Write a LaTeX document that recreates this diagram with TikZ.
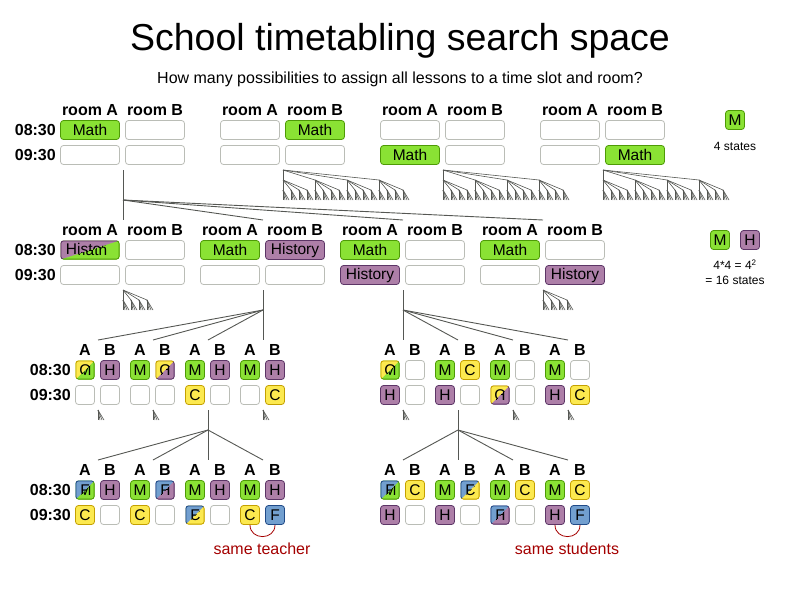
\documentclass[tikz,border=0pt]{standalone}
\usepackage{fontspec}
\setmainfont{Liberation Sans}
\definecolor{mfill}{HTML}{8AE234}
\definecolor{mline}{HTML}{4E9A06}
\definecolor{hfill}{HTML}{AD7FA8}
\definecolor{hline}{HTML}{5C3566}
\definecolor{cfill}{HTML}{FCE94F}
\definecolor{cline}{HTML}{C4A000}
\definecolor{ffill}{HTML}{729FCF}
\definecolor{fline}{HTML}{204A87}
\definecolor{slotgray}{HTML}{BABDB6}
\definecolor{linegray}{HTML}{555753}
\definecolor{remred}{HTML}{A40000}
\newcommand\cellfont{\fontsize{15.5}{16}\selectfont}
\newcommand\subtree[4]{%
  \ifnum#4>0\relax
    \foreach \i in {0,...,3}{%
      \pgfmathsetmacro\cx{#1+\i*#3}%
      \pgfmathsetmacro\cy{#2+10}%
      \pgfmathsetmacro\ns{#3/4}%
      \pgfmathtruncatemacro\nd{#4-1}%
      \draw[twig] (#1,#2) -- (\cx,\cy);%
      \edef\next{\noexpand\subtree{\cx}{\cy}{\ns}{\nd}}\next
    }%
  \fi}
\tikzset{
  slot/.style={draw=slotgray, fill=white, rounded corners=3pt, line width=0.8pt,
    minimum width=59pt, minimum height=19pt, inner sep=0pt, font=\cellfont},
  sq/.style={slot, minimum width=19pt},
  lm/.style={fill=mfill, draw=mline},
  lh/.style={fill=hfill, draw=hline},
  lc/.style={fill=cfill, draw=cline},
  lf/.style={fill=ffill, draw=fline},
  mixed/.style n args={4}{fill=#3fill, draw=none, path picture={
    \begin{scope}
      \clip[sharp corners] (path picture bounding box.north west) -- (path picture bounding box.north east)
        -- (path picture bounding box.south west) -- cycle;
      \fill[#1fill] (path picture bounding box.south west) rectangle (path picture bounding box.north east);
      \draw[#1line, line width=1.6pt, rounded corners=3pt] (path picture bounding box.south west) rectangle (path picture bounding box.north east);
      \pgftext[at=\pgfpointanchor{path picture bounding box}{center}]{\cellfont #2}
    \end{scope}
    \begin{scope}
      \clip[sharp corners] (path picture bounding box.north east) -- (path picture bounding box.south east)
        -- (path picture bounding box.south west) -- cycle;
      \draw[#3line, line width=1.6pt, rounded corners=3pt] (path picture bounding box.south west) rectangle (path picture bounding box.north east);
      \pgftext[at=\pgfpointanchor{path picture bounding box}{center}]{\cellfont #4}
    \end{scope}}},
  hdr/.style={font=\bfseries\fontsize{16}{16}\selectfont, inner sep=0pt},
  tm/.style={hdr, anchor=east},
  branch/.style={draw=linegray, line width=0.9pt},
  twig/.style={draw=linegray, line width=0.6pt},
  note/.style={font=\fontsize{12}{15}\selectfont, align=center, inner sep=0pt},
  remark/.style={font=\fontsize{16}{16}\selectfont, text=remred, inner sep=0pt}
}
\begin{document}
\begin{tikzpicture}[x=1pt,y=-1pt]
    \useasboundingbox (0,0) rectangle (800,600);
    \node[inner sep=0pt, font=\fontsize{37.5}{40}\selectfont] (title) at (400,41) {School timetabling search space};
    \node[inner sep=0pt, font=\fontsize{16}{16}\selectfont] (sub) at (400,79) {How many possibilities to assign all lessons to a time slot and room?};

    % column and row labels
    \foreach \g/\x in {a/90, b/250, c/410, d/570} {
        \node[hdr] (h1\g A) at (\x,110) {room A};
        \node[hdr] (h1\g B) at (\x+65,110) {room B};
    }
    \foreach \g/\x in {a/90, b/230, c/370, d/510} {
        \node[hdr] (h2\g A) at (\x,230) {room A};
        \node[hdr] (h2\g B) at (\x+65,230) {room B};
    }
    \foreach \x [count=\i] in {85,140,195,250,390,445,500,555} {
        \node[hdr] (h3A\i) at (\x,350) {A};
        \node[hdr] (h3B\i) at (\x+25,350) {B};
        \node[hdr] (h4A\i) at (\x,470) {A};
        \node[hdr] (h4B\i) at (\x+25,470) {B};
    }
    \node[tm] (t1a) at (56,130) {08:30};
    \node[tm] (t1b) at (56,155) {09:30};
    \node[tm] (t2a) at (56,250) {08:30};
    \node[tm] (t2b) at (56,275) {09:30};
    \node[tm] (t3a) at (71,370) {08:30};
    \node[tm] (t3b) at (71,395) {09:30};
    \node[tm] (t4a) at (71,490) {08:30};
    \node[tm] (t4b) at (71,515) {09:30};

    % level 1
    \node[slot, lm] (c1aA8) at (90,130) {Math};
    \node[slot] (c1aB8) at (155,130) {};
    \node[slot] (c1aA9) at (90,155) {};
    \node[slot] (c1aB9) at (155,155) {};
    \node[slot] (c1bA8) at (250,130) {};
    \node[slot, lm] (c1bB8) at (315,130) {Math};
    \node[slot] (c1bA9) at (250,155) {};
    \node[slot] (c1bB9) at (315,155) {};
    \node[slot] (c1cA8) at (410,130) {};
    \node[slot] (c1cB8) at (475,130) {};
    \node[slot, lm] (c1cA9) at (410,155) {Math};
    \node[slot] (c1cB9) at (475,155) {};
    \node[slot] (c1dA8) at (570,130) {};
    \node[slot] (c1dB8) at (635,130) {};
    \node[slot] (c1dA9) at (570,155) {};
    \node[slot, lm] (c1dB9) at (635,155) {Math};

    % level 2
    \node[slot, mixed={h}{History}{m}{Math}] (c2aA8) at (90,250) {};
    \node[slot] (c2aB8) at (155,250) {};
    \node[slot] (c2aA9) at (90,275) {};
    \node[slot] (c2aB9) at (155,275) {};
    \node[slot, lm] (c2bA8) at (230,250) {Math};
    \node[slot, lh] (c2bB8) at (295,250) {History};
    \node[slot] (c2bA9) at (230,275) {};
    \node[slot] (c2bB9) at (295,275) {};
    \node[slot, lm] (c2cA8) at (370,250) {Math};
    \node[slot] (c2cB8) at (435,250) {};
    \node[slot, lh] (c2cA9) at (370,275) {History};
    \node[slot] (c2cB9) at (435,275) {};
    \node[slot, lm] (c2dA8) at (510,250) {Math};
    \node[slot] (c2dB8) at (575,250) {};
    \node[slot] (c2dA9) at (510,275) {};
    \node[slot, lh] (c2dB9) at (575,275) {History};

    % level 3
    \node[sq, mixed={c}{C}{m}{M}] (c3aA8) at (85,370) {};
    \node[sq, lh] (c3aB8) at (110,370) {H};
    \node[sq] (c3aA9) at (85,395) {};
    \node[sq] (c3aB9) at (110,395) {};
    \node[sq, lm] (c3bA8) at (140,370) {M};
    \node[sq, mixed={c}{C}{h}{H}] (c3bB8) at (165,370) {};
    \node[sq] (c3bA9) at (140,395) {};
    \node[sq] (c3bB9) at (165,395) {};
    \node[sq, lm] (c3cA8) at (195,370) {M};
    \node[sq, lh] (c3cB8) at (220,370) {H};
    \node[sq, lc] (c3cA9) at (195,395) {C};
    \node[sq] (c3cB9) at (220,395) {};
    \node[sq, lm] (c3dA8) at (250,370) {M};
    \node[sq, lh] (c3dB8) at (275,370) {H};
    \node[sq] (c3dA9) at (250,395) {};
    \node[sq, lc] (c3dB9) at (275,395) {C};
    \node[sq, mixed={c}{C}{m}{M}] (c3eA8) at (390,370) {};
    \node[sq] (c3eB8) at (415,370) {};
    \node[sq, lh] (c3eA9) at (390,395) {H};
    \node[sq] (c3eB9) at (415,395) {};
    \node[sq, lm] (c3fA8) at (445,370) {M};
    \node[sq, lc] (c3fB8) at (470,370) {C};
    \node[sq, lh] (c3fA9) at (445,395) {H};
    \node[sq] (c3fB9) at (470,395) {};
    \node[sq, lm] (c3gA8) at (500,370) {M};
    \node[sq] (c3gB8) at (525,370) {};
    \node[sq, mixed={c}{C}{h}{H}] (c3gA9) at (500,395) {};
    \node[sq] (c3gB9) at (525,395) {};
    \node[sq, lm] (c3hA8) at (555,370) {M};
    \node[sq] (c3hB8) at (580,370) {};
    \node[sq, lh] (c3hA9) at (555,395) {H};
    \node[sq, lc] (c3hB9) at (580,395) {C};

    % level 4
    \node[sq, mixed={f}{F}{m}{M}] (c4aA8) at (85,490) {};
    \node[sq, lh] (c4aB8) at (110,490) {H};
    \node[sq, lc] (c4aA9) at (85,515) {C};
    \node[sq] (c4aB9) at (110,515) {};
    \node[sq, lm] (c4bA8) at (140,490) {M};
    \node[sq, mixed={f}{F}{h}{H}] (c4bB8) at (165,490) {};
    \node[sq, lc] (c4bA9) at (140,515) {C};
    \node[sq] (c4bB9) at (165,515) {};
    \node[sq, lm] (c4cA8) at (195,490) {M};
    \node[sq, lh] (c4cB8) at (220,490) {H};
    \node[sq, mixed={f}{F}{c}{C}] (c4cA9) at (195,515) {};
    \node[sq] (c4cB9) at (220,515) {};
    \node[sq, lm] (c4dA8) at (250,490) {M};
    \node[sq, lh] (c4dB8) at (275,490) {H};
    \node[sq, lc] (c4dA9) at (250,515) {C};
    \node[sq, lf] (c4dB9) at (275,515) {F};
    \node[sq, mixed={f}{F}{m}{M}] (c4eA8) at (390,490) {};
    \node[sq, lc] (c4eB8) at (415,490) {C};
    \node[sq, lh] (c4eA9) at (390,515) {H};
    \node[sq] (c4eB9) at (415,515) {};
    \node[sq, lm] (c4fA8) at (445,490) {M};
    \node[sq, mixed={f}{F}{c}{C}] (c4fB8) at (470,490) {};
    \node[sq, lh] (c4fA9) at (445,515) {H};
    \node[sq] (c4fB9) at (470,515) {};
    \node[sq, lm] (c4gA8) at (500,490) {M};
    \node[sq, lc] (c4gB8) at (525,490) {C};
    \node[sq, mixed={f}{F}{h}{H}] (c4gA9) at (500,515) {};
    \node[sq] (c4gB9) at (525,515) {};
    \node[sq, lm] (c4hA8) at (555,490) {M};
    \node[sq, lc] (c4hB8) at (580,490) {C};
    \node[sq, lh] (c4hA9) at (555,515) {H};
    \node[sq, lf] (c4hB9) at (580,515) {F};

    % state counts
    \node[sq, lm] (kM1) at (735,120) {M};
    \node[note] (k1) at (735,146) {4 states};
    \node[sq, lm] (kM2) at (720,240) {M};
    \node[sq, lh] (kH2) at (750,240) {H};
    \node[note] (k2) at (735,272) {4*4 = 4\textsuperscript{2}\\= 16 states};

    % conflicts
    \node[remark] (rt) at (262,549) {same teacher};
    \node[remark] (rs) at (567,549) {same students};
    \draw[remred, line width=0.8pt] (c4dA9.south) to[out=-90, in=-90, looseness=1.6] (c4dB9.south);
    \draw[remred, line width=0.8pt] (c4hA9.south) to[out=-90, in=-90, looseness=1.6] (c4hB9.south);

    % search tree
    \coordinate (p1) at (123,170);
    \coordinate (p1m) at (123,200);
    \coordinate (p1e) at (123,220);
    \coordinate (q1b) at (263,220);
    \coordinate (q1c) at (403,220);
    \coordinate (q1d) at (543,220);
    \draw[branch] (p1) -- (p1e);
    \draw[branch] (p1m) -- (q1b);
    \draw[branch] (p1m) -- (q1c);
    \draw[branch] (p1m) -- (q1d);
    \coordinate (p2) at (263,290);
    \coordinate (p2m) at (263,310);
    \coordinate (p2e) at (263,340);
    \coordinate (q2a) at (98,340);
    \coordinate (q2b) at (153,340);
    \coordinate (q2c) at (208,340);
    \draw[branch] (p2) -- (p2e);
    \draw[branch] (p2m) -- (q2a);
    \draw[branch] (p2m) -- (q2b);
    \draw[branch] (p2m) -- (q2c);
    \coordinate (p3) at (403,290);
    \coordinate (p3m) at (403,310);
    \coordinate (p3e) at (403,340);
    \coordinate (q3f) at (458,340);
    \coordinate (q3g) at (513,340);
    \coordinate (q3h) at (568,340);
    \draw[branch] (p3) -- (p3e);
    \draw[branch] (p3m) -- (q3f);
    \draw[branch] (p3m) -- (q3g);
    \draw[branch] (p3m) -- (q3h);
    \coordinate (p4) at (208,410);
    \coordinate (p4m) at (208,430);
    \coordinate (p4e) at (208,460);
    \coordinate (q4a) at (98,460);
    \coordinate (q4b) at (153,460);
    \coordinate (q4d) at (263,460);
    \draw[branch] (p4) -- (p4e);
    \draw[branch] (p4m) -- (q4a);
    \draw[branch] (p4m) -- (q4b);
    \draw[branch] (p4m) -- (q4d);
    \coordinate (p5) at (458,410);
    \coordinate (p5m) at (458,430);
    \coordinate (p5e) at (458,460);
    \coordinate (q5e) at (403,460);
    \coordinate (q5g) at (513,460);
    \coordinate (q5h) at (568,460);
    \draw[branch] (p5) -- (p5e);
    \draw[branch] (p5m) -- (q5e);
    \draw[branch] (p5m) -- (q5g);
    \draw[branch] (p5m) -- (q5h);

    % unexplored subtrees
    \subtree{283}{170}{32}{3}
    \subtree{443}{170}{32}{3}
    \subtree{603}{170}{32}{3}
    \subtree{123}{290}{8}{2}
    \subtree{543}{290}{8}{2}
    \foreach \x in {98,153,263,403,513,568} {
        \subtree{\x}{410}{2}{1}
    }
\end{tikzpicture}
\end{document}
